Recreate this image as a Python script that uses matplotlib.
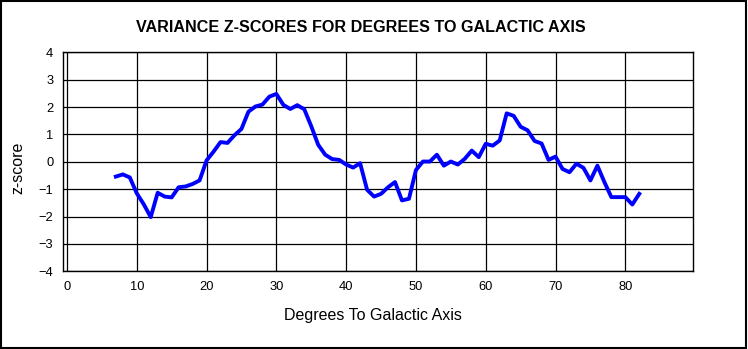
import matplotlib.pyplot as plt
from matplotlib.patches import Rectangle
import numpy as np

plt.rcParams['font.family'] = ['Liberation Sans', 'DejaVu Sans']

# degrees to galactic axis
degrees = list(range(7, 83))
# variance z-scores
zscores = [-0.54, -0.46, -0.57, -1.15, -1.55, -2.02, -1.13, -1.27, -1.30, -0.93,
           -0.90, -0.81, -0.68, 0.05, 0.37, 0.72, 0.69, 0.97, 1.20, 1.83,
           2.02, 2.09, 2.38, 2.48, 2.08, 1.93, 2.07, 1.92, 1.30, 0.62,
           0.26, 0.10, 0.07, -0.10, -0.21, -0.05, -1.02, -1.27, -1.17, -0.93,
           -0.74, -1.41, -1.35, -0.30, 0.01, 0.01, 0.26, -0.14, 0.01, -0.10,
           0.11, 0.41, 0.17, 0.66, 0.59, 0.78, 1.77, 1.68, 1.28, 1.15,
           0.76, 0.67, 0.07, 0.19, -0.26, -0.38, -0.07, -0.22, -0.68, -0.14,
           -0.74, -1.29, -1.29, -1.29, -1.56, -1.17]
xticks = [0, 10, 20, 30, 40, 50, 60, 70, 80]
yticks = [-4, -3, -2, -1, 0, 1, 2, 3, 4]

fig = plt.figure(figsize=(7.48, 3.49), dpi=100)
ax = fig.add_axes([0.0842, 0.2226, 0.8423, 0.6275])

ax.plot(degrees, zscores, color='#0000ff', lw=2.8, solid_joinstyle='round')

ax.set_xlim(-0.57, 89.7)
ax.set_ylim(-4, 4)
ax.set_xticks(xticks)
ax.set_yticks(yticks)
ax.tick_params(length=0, labelsize=9.3, pad=7)
ax.grid(True, color='black', lw=0.9)
ax.set_axisbelow(True)
for s in ax.spines.values():
    s.set_linewidth(1.0)

fig.text(0.482, 0.92, 'VARIANCE Z-SCORES FOR DEGREES TO GALACTIC AXIS',
         ha='center', va='center', fontsize=11.6, fontweight='bold')
fig.text(0.498, 0.097, 'Degrees To Galactic Axis', ha='center', va='center', fontsize=11.5)
fig.text(0.024, 0.52, 'z-score', ha='center', va='center', rotation=90, fontsize=11.5)

fig.patches.append(Rectangle((0.0015, 0.003), 0.996, 0.993, transform=fig.transFigure,
                             fill=False, edgecolor='black', lw=1.5))

plt.savefig('out.png', dpi=100)
